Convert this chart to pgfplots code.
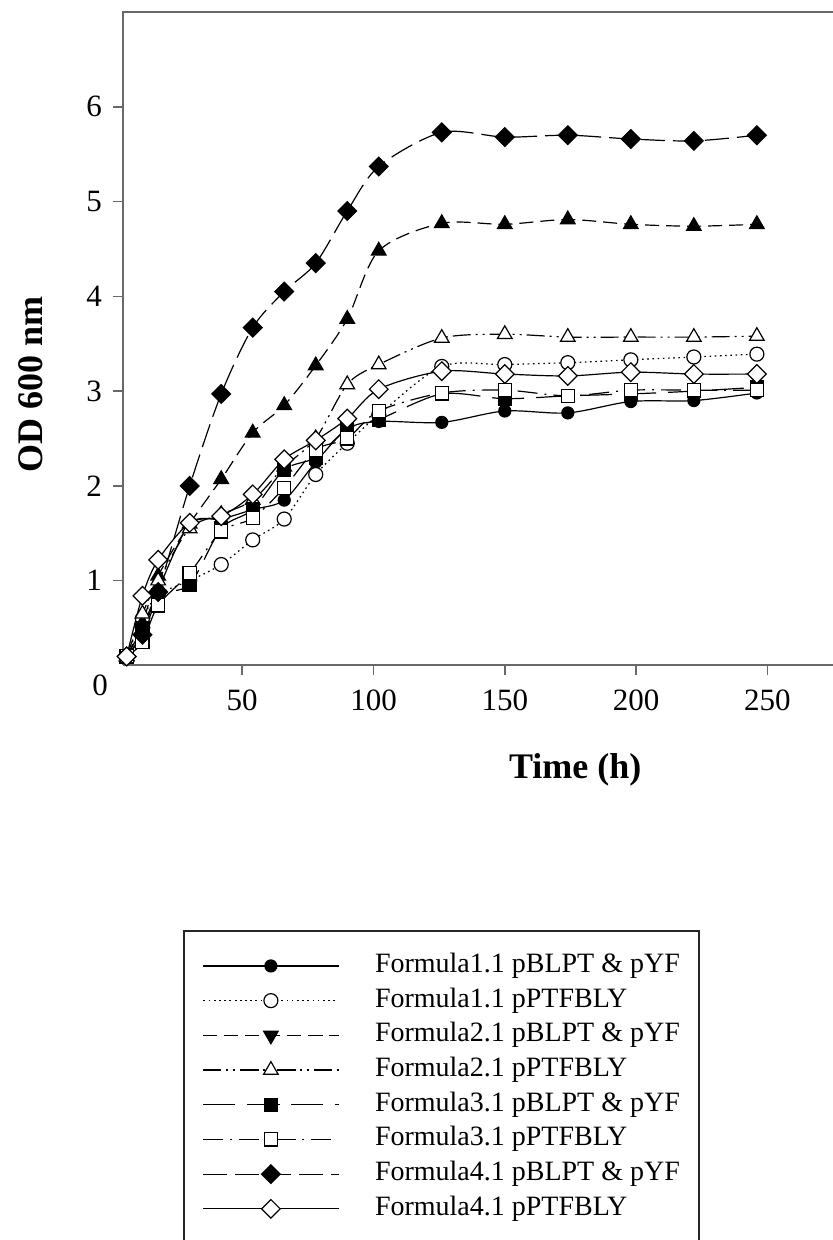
\documentclass[border=0pt]{standalone}
\usepackage{pgfplots}
\usepackage{pgfplotstable}
\pgfplotsset{compat=1.18}
\usepackage{fontspec}
\setmainfont{Liberation Serif}
\definecolor{spine}{RGB}{105,105,105}

% OD600 growth curves, columns = series in legend order
\pgfplotstableread{
t    fa    fb    fc    fd    fe    ff    fg    fh
6    0.20  0.20  0.20  0.20  0.20  0.20  0.20  0.20
12   0.45  0.60  0.55  0.65  0.50  0.35  0.43  0.84
18   0.90  0.85  1.05  1.00  0.85  0.74  0.88  1.22
30   1.60  1.00  1.60  1.55  0.96  1.08  2.00  1.61
42   1.65  1.17  2.07  1.70  1.55  1.52  2.97  1.68
54   1.75  1.43  2.56  1.85  1.75  1.66  3.67  1.91
66   1.85  1.65  2.85  2.20  2.17  1.98  4.05  2.28
78   2.25  2.12  3.27  2.50  2.30  2.38  4.35  2.48
90   2.60  2.45  3.76  3.07  2.60  2.50  4.90  2.71
102  2.68  2.75  4.48  3.28  2.70  2.79  5.37  3.02
126  2.67  3.26  4.77  3.56  2.97  2.98  5.73  3.21
150  2.79  3.28  4.76  3.60  2.92  3.01  5.68  3.18
174  2.77  3.30  4.81  3.57  2.95  2.95  5.70  3.16
198  2.89  3.33  4.76  3.57  2.97  3.01  5.66  3.20
222  2.90  3.36  4.74  3.57  3.00  3.01  5.64  3.18
246  2.98  3.39  4.76  3.58  3.04  3.01  5.70  3.18
}\growth

\begin{document}
\begin{tikzpicture}
\begin{axis}[
    at={(61.5pt,-332.5pt)}, anchor=south west,
    scale only axis, width=355pt, height=326.5pt,
    xmin=4.6, xmax=275, ymin=0.11, ymax=7.0,
    axis x line*=bottom, axis y line*=left,
    axis line style={-, spine, line width=1.2pt},
    xtick={50,100,150,200,250}, ytick={1,2,3,4,5,6},
    minor tick num=0,
    tick align=outside, major tick length=5pt,
    tick style={spine, line width=0.8pt},
    /pgf/number format/assume math mode=true,
    tick label style={font=\fontsize{15.5}{18}\selectfont, black},
    xticklabel style={yshift=-4pt},
    yticklabel style={xshift=-2pt},
    xlabel={Time (h)},
    xlabel style={at={(axis description cs:0.637,-0.161)}, anchor=center,
        font=\bfseries\fontsize{18}{20}\selectfont},
    ylabel={OD 600 nm},
    ylabel style={at={(axis description cs:-0.1296,0.43)}, anchor=center,
        font=\bfseries\fontsize{18}{20}\selectfont},
    clip=false,
    every axis plot/.append style={black, line width=0.6pt, smooth},
    legend image code/.code={
        \draw[mark repeat=2, mark phase=2, #1]
            plot coordinates {(0pt,0pt) (33.75pt,0pt) (67.5pt,0pt)};
    },
    legend cell align=left,
    legend style={at={(0.0845,-0.406)}, anchor=north west,
        draw=black!85, line width=0.8pt,
        inner xsep=9.5pt, inner ysep=10.75pt,
        font=\fontsize{14}{16}\selectfont,
        row sep=3.85pt,
        nodes={inner sep=0pt, text height=10pt, text depth=3.5pt},
        /tikz/every odd column/.append style={column sep=18pt}},
]
\addplot[mark=*, mark size=3pt, mark options={solid}]
    table[x=t, y=fa] {\growth};
\addlegendentry{Formula1.1 pBLPT \& pYF}
\addplot[dash pattern=on 0.8pt off 1.8pt, mark=*, mark size=3.5pt,
    mark options={solid, fill=white}]
    table[x=t, y=fb] {\growth};
\addlegendentry{Formula1.1 pPTFBLY}
\addplot[dash pattern=on 7pt off 3.5pt, mark=triangle*, mark size=4.2pt,
    mark options={solid},
    legend image post style={/tikz/every mark/.append style={rotate=180}}]
    table[x=t, y=fc] {\growth};
\addlegendentry{Formula2.1 pBLPT \& pYF}
\addplot[dash pattern=on 9pt off 2.5pt on 1pt off 2.5pt on 1pt off 2.5pt,
    mark=triangle*, mark size=4.2pt, mark options={solid, fill=white}]
    table[x=t, y=fd] {\growth};
\addlegendentry{Formula2.1 pPTFBLY}
\addplot[dash pattern=on 16pt off 6pt, mark=square*, mark size=3.3pt,
    mark options={solid}]
    table[x=t, y=fe] {\growth};
\addlegendentry{Formula3.1 pBLPT \& pYF}
\addplot[dash pattern=on 10pt off 3.5pt on 1pt off 3.5pt, mark=square*,
    mark size=3.3pt, mark options={solid, fill=white}]
    table[x=t, y=ff] {\growth};
\addlegendentry{Formula3.1 pPTFBLY}
\addplot[dash pattern=on 12pt off 4pt, mark=square*, mark size=3.3pt,
    mark options={solid, rotate=45}]
    table[x=t, y=fg] {\growth};
\addlegendentry{Formula4.1 pBLPT \& pYF}
\addplot[mark=square*, mark size=3.3pt, mark options={solid, rotate=45, fill=white}]
    table[x=t, y=fh] {\growth};
\addlegendentry{Formula4.1 pPTFBLY}
\draw[spine, line width=1.2pt, line cap=rect] (rel axis cs:0,1) -- (rel axis cs:1,1);
\end{axis}
\node[font=\fontsize{15.5}{18}\selectfont] at (50pt,-342.5pt) {0};
\pgfresetboundingbox
\useasboundingbox (0,0) rectangle (416.5pt,-620pt);
\end{tikzpicture}
\end{document}
